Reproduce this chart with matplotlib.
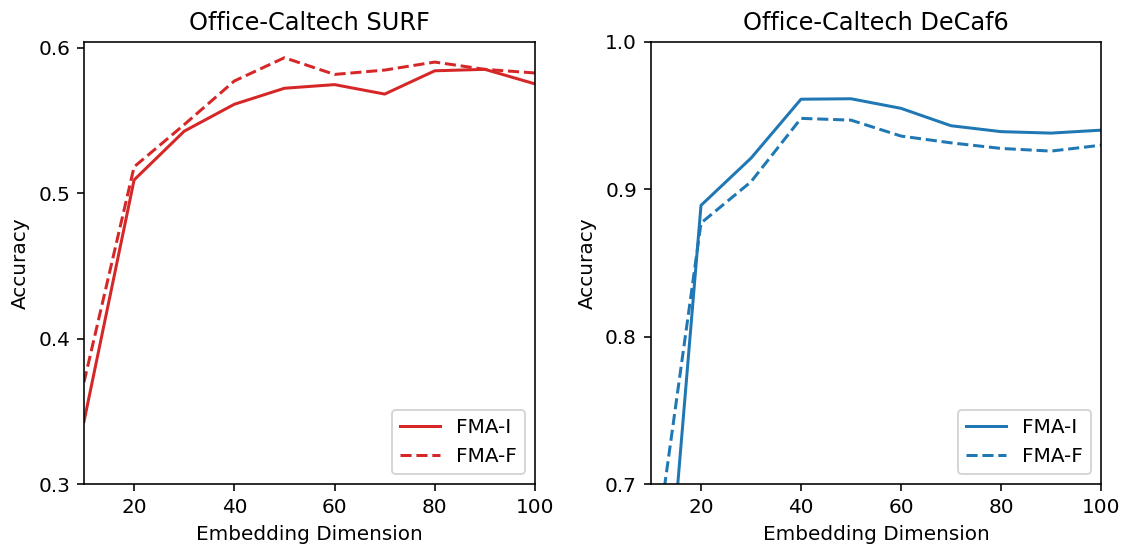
import matplotlib
matplotlib.use("Agg")
import matplotlib.pyplot as plt

dims = [10, 20, 30, 40, 50, 60, 70, 80, 90, 100]

surf_fma_i = [0.343, 0.509, 0.5425, 0.561, 0.572, 0.5745, 0.568, 0.584, 0.585, 0.575]
surf_fma_f = [0.370, 0.518, 0.547, 0.577, 0.593, 0.5815, 0.5845, 0.590, 0.585, 0.5825]

decaf_fma_i = [0.482, 0.889, 0.921, 0.961, 0.9613, 0.9548, 0.943, 0.939, 0.938, 0.940]
decaf_fma_f = [0.632, 0.877, 0.905, 0.948, 0.9468, 0.936, 0.9314, 0.9276, 0.9258, 0.9298]

titles = ["Office-Caltech SURF", "Office-Caltech DeCaf6"]
labels = ["FMA-I", "FMA-F"]

DPI = 144
fig = plt.figure(figsize=(1130 / DPI, 550 / DPI), dpi=DPI)
ax1 = fig.add_axes([84 / 1130, 1 - 484 / 550, (535 - 84) / 1130, (484 - 41.7) / 550])
ax2 = fig.add_axes([651 / 1130, 1 - 484 / 550, (1101 - 651) / 1130, (484 - 41.7) / 550])

red = "#d62728"
blue = "#1f77b4"

ax1.plot(dims, surf_fma_i, color=red, linestyle="-", label=labels[0])
ax1.plot(dims, surf_fma_f, color=red, linestyle="--", label=labels[1])
ax1.set_xlim(10, 100)
ax1.set_ylim(0.3, 0.604)
ax1.set_yticks([0.3, 0.4, 0.5, 0.6])
ax1.set_title(titles[0])

ax2.plot(dims, decaf_fma_i, color=blue, linestyle="-", label=labels[0])
ax2.plot(dims, decaf_fma_f, color=blue, linestyle="--", label=labels[1])
ax2.set_xlim(10, 100)
ax2.set_ylim(0.7, 1.0)
ax2.set_yticks([0.7, 0.8, 0.9, 1.0])
ax2.set_title(titles[1])

for ax in (ax1, ax2):
    ax.set_xticks([20, 40, 60, 80, 100])
    ax.set_xlabel("Embedding Dimension")
    ax.set_ylabel("Accuracy")
    ax.legend(loc="lower right")

fig.savefig("out.png", dpi=DPI)
